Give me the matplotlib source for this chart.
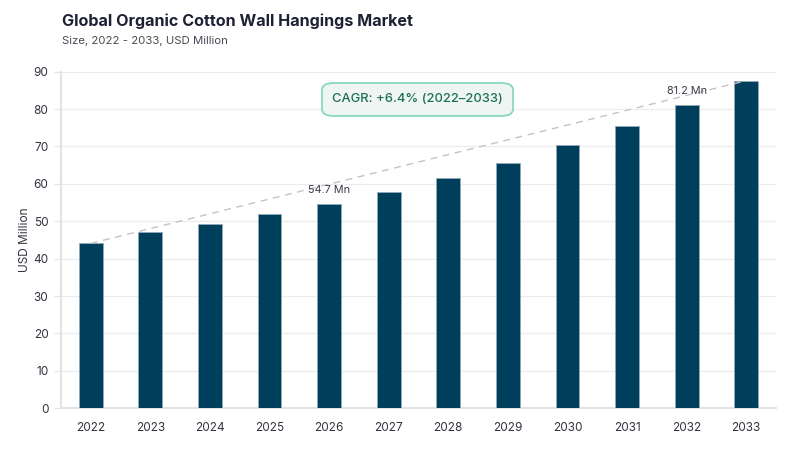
import matplotlib
matplotlib.use("Agg")
import matplotlib.pyplot as plt
from matplotlib.patches import FancyBboxPatch

years = ["2022", "2023", "2024", "2025", "2026", "2027", "2028", "2029", "2030", "2031", "2032", "2033"]
values = [44.1, 47.2, 49.4, 51.9, 54.7, 57.8, 61.6, 65.6, 70.3, 75.4, 81.2, 87.6]
labelled = {"2026": "54.7 Mn", "2032": "81.2 Mn"}
y_ticks = [0, 10, 20, 30, 40, 50, 60, 70, 80, 90]
title = "Global Organic Cotton Wall Hangings Market"
subtitle = "Size, 2022 - 2033, USD Million"
cagr_text = "CAGR: +6.4% (2022–2033)"

plt.rcParams['font.family'] = ['Inter', 'DejaVu Sans']

fig = plt.figure(figsize=(8, 4.5), dpi=100)
ax = fig.add_axes([0.07625, 0.0927, 0.8937, 0.748])

x = list(range(len(years)))
ax.bar(x, values, width=0.4, color="#003f5c", edgecolor="#8fa9b8", linewidth=0.6, zorder=3)

# dashed trend line from first to last bar top
ax.plot([x[0], x[-1]], [values[0], values[-1]], linestyle=(0, (5, 4)), color="#c4c4c4", linewidth=1, zorder=4)

for i, yr in enumerate(years):
    if yr in labelled:
        ax.text(i, values[i] + 2.4, labelled[yr], ha="center", va="bottom", fontsize=7.8, color="#3a3a48", zorder=5)

ax.set_xlim(-0.5, len(years) - 0.5)
ax.set_ylim(0, 90)
ax.set_yticks(y_ticks)
ax.set_xticks(x)
ax.set_xticklabels(years)
ax.tick_params(axis="x", length=0, pad=10, labelsize=8.5, labelcolor="#333340")
ax.tick_params(axis="y", length=5, width=0.8, color="#e4e4ec", pad=4, labelsize=8.5, labelcolor="#333340")
ax.grid(axis="y", color="#ececf0", linewidth=0.9, zorder=0)
for s in ["top", "right"]:
    ax.spines[s].set_visible(False)
ax.spines["left"].set_color("#e2e2ea")
ax.spines["left"].set_linewidth(1.5)
ax.spines["bottom"].set_color("#e2e2ea")
ax.spines["bottom"].set_linewidth(1.5)
ax.set_ylabel("USD Million", fontsize=8.5, color="#333340", labelpad=2)

fig.text(0.0775, 0.952, title, fontsize=11.6, fontweight="bold", color="#1f2033", ha="left", va="center")
fig.text(0.0775, 0.908, subtitle, fontsize=8.2, color="#4a4a55", ha="left", va="center")

# CAGR box
bx0, by0, bw, bh = 322 / 800, 1 - 116 / 450, 191 / 800, 33 / 450
box = FancyBboxPatch((bx0, by0), bw, bh, boxstyle="round,pad=0,rounding_size=0.015",
                     transform=fig.transFigure, facecolor="#eef5f3", edgecolor="#7fd6bb",
                     linewidth=1.2, zorder=6)
fig.patches.append(box)
fig.text(bx0 + bw / 2, by0 + bh / 2, cagr_text, fontsize=9.3, fontweight="medium", color="#1c6f56",
         ha="center", va="center", zorder=7)

fig.savefig("out.png", dpi=100)
